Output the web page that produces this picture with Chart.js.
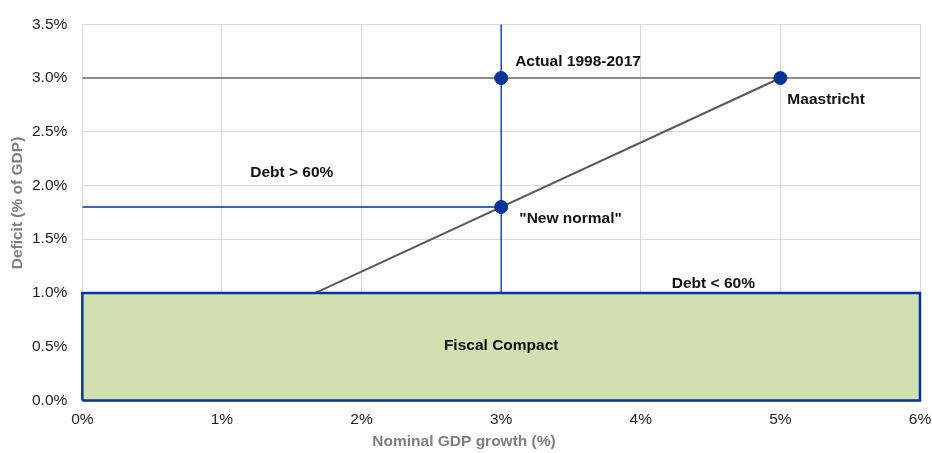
<!DOCTYPE html>
<html>
<head>
<meta charset="utf-8">
<script src="https://cdn.jsdelivr.net/npm/chart.js@4"></script>
<style>
  html, body { margin: 0; padding: 0; background: #fff; }
  #wrap { width: 932px; height: 453px; }
</style>
</head>
<body>
<div id="wrap"><canvas id="fiscalChart"></canvas></div>
<script>
// dados (crescimento nominal do PIB x déficit, em %)
const pontosX = [3, 3, 5];
const pontosY = [3.0, 1.8, 3.0];
const linhaMaastrichtX = [1.67, 5];
const linhaMaastrichtY = [1.0, 3.0];
const limite3X = [0, 6];
const limite3Y = [3.0, 3.0];
const verticalX = [3, 3];
const verticalY = [3.5, 1.0];
const horizontalX = [0, 3];
const horizontalY = [1.8, 1.8];
const retanguloX = [0, 0, 6, 6, 0];
const retanguloY = [0, 1.0, 1.0, 0, 0];
const yTicks = [0, 0.5, 1.0, 1.5, 2.0, 2.5, 3.0, 3.5];
const xTicks = [0, 1, 2, 3, 4, 5, 6];
const tituloX = 'Nominal GDP growth (%)';
const tituloY = 'Deficit (% of GDP)';

// rótulos de texto: [texto, x, y, alinhamento]
const rotulos = [
  ['Actual 1998-2017', 3.1, 3.15, 'left'],
  ['Maastricht', 5.05, 2.8, 'left'],
  ['Debt > 60%', 1.5, 2.12, 'center'],
  ['"New normal"', 3.13, 1.69, 'left'],
  ['Debt < 60%', 4.52, 1.09, 'center'],
  ['Fiscal Compact', 3.0, 0.51, 'center']
];

const pares = (xs, ys) => xs.map((x, i) => ({ x: x, y: ys[i] }));

const rotulosPlugin = {
  id: 'rotulos',
  afterDatasetsDraw(chart) {
    const c = chart.ctx;
    const sx = chart.scales.x, sy = chart.scales.y;
    c.save();
    c.font = 'bold 15.5px "Liberation Sans", Arial, sans-serif';
    c.fillStyle = '#111';
    c.textBaseline = 'middle';
    rotulos.forEach(r => {
      c.textAlign = r[3];
      c.fillText(r[0], sx.getPixelForValue(r[1]), sy.getPixelForValue(r[2]));
    });
    // títulos dos eixos (como no Excel, o do eixo X fica um pouco à esquerda)
    c.fillStyle = '#7f7f7f';
    c.textAlign = 'center';
    c.fillText(tituloX, 464, 442);
    c.translate(18, 203);
    c.rotate(-Math.PI / 2);
    c.fillText(tituloY, 0, 0);
    c.restore();
  }
};

new Chart(document.getElementById('fiscalChart'), {
  type: 'scatter',
  data: {
    datasets: [
      { // pontos
        data: pares(pontosX, pontosY),
        backgroundColor: '#003399', borderColor: '#003399',
        pointRadius: 6.5, showLine: false, order: 0, clip: false
      },
      { // borda do retângulo
        data: pares(retanguloX, retanguloY),
        showLine: true, borderColor: '#003399', borderWidth: 2.5,
        pointRadius: 0, fill: false, order: 1, clip: false
      },
      { // preenchimento Fiscal Compact
        data: pares([0, 6], [1.0, 1.0]),
        showLine: true, borderWidth: 0, borderColor: 'rgba(0,0,0,0)',
        backgroundColor: '#d1e0b1', pointRadius: 0, fill: 'origin', order: 2
      },
      {
        data: pares(linhaMaastrichtX, linhaMaastrichtY),
        showLine: true, borderColor: '#595959', borderWidth: 2,
        pointRadius: 0, order: 3
      },
      {
        data: pares(limite3X, limite3Y),
        showLine: true, borderColor: '#6b6b6b', borderWidth: 1.5,
        pointRadius: 0, order: 4
      },
      {
        data: pares(verticalX, verticalY),
        showLine: true, borderColor: '#0033a0', borderWidth: 1.3,
        pointRadius: 0, order: 5
      },
      {
        data: pares(horizontalX, horizontalY),
        showLine: true, borderColor: '#0033a0', borderWidth: 1.3,
        pointRadius: 0, order: 6
      }
    ]
  },
  options: {
    responsive: true,
    maintainAspectRatio: false,
    animation: false,
    layout: { padding: { top: 15, right: 12, left: 17, bottom: 14 } },
    scales: {
      x: {
        type: 'linear', min: 0, max: 6,
        afterBuildTicks: axis => { axis.ticks = xTicks.map(v => ({ value: v })); },
        afterFit: axis => { axis.paddingRight = 0; },
        ticks: {
          color: '#222', padding: 10,
          font: { family: '"Liberation Sans", Arial', size: 15.5 },
          callback: v => v + '%'
        },
        grid: { color: '#d9d9d9', drawTicks: false },
        border: { display: false }
      },
      y: {
        type: 'linear', min: 0, max: 3.5,
        afterBuildTicks: axis => { axis.ticks = yTicks.map(v => ({ value: v })); },
        ticks: {
          color: '#222', padding: 15,
          font: { family: '"Liberation Sans", Arial', size: 15.5 },
          callback: v => v.toFixed(1) + '%'
        },
        grid: { color: '#d9d9d9', drawTicks: false },
        border: { display: false }
      }
    },
    plugins: {
      legend: { display: false },
      tooltip: { enabled: false }
    }
  },
  plugins: [rotulosPlugin]
});
</script>
</body>
</html>
